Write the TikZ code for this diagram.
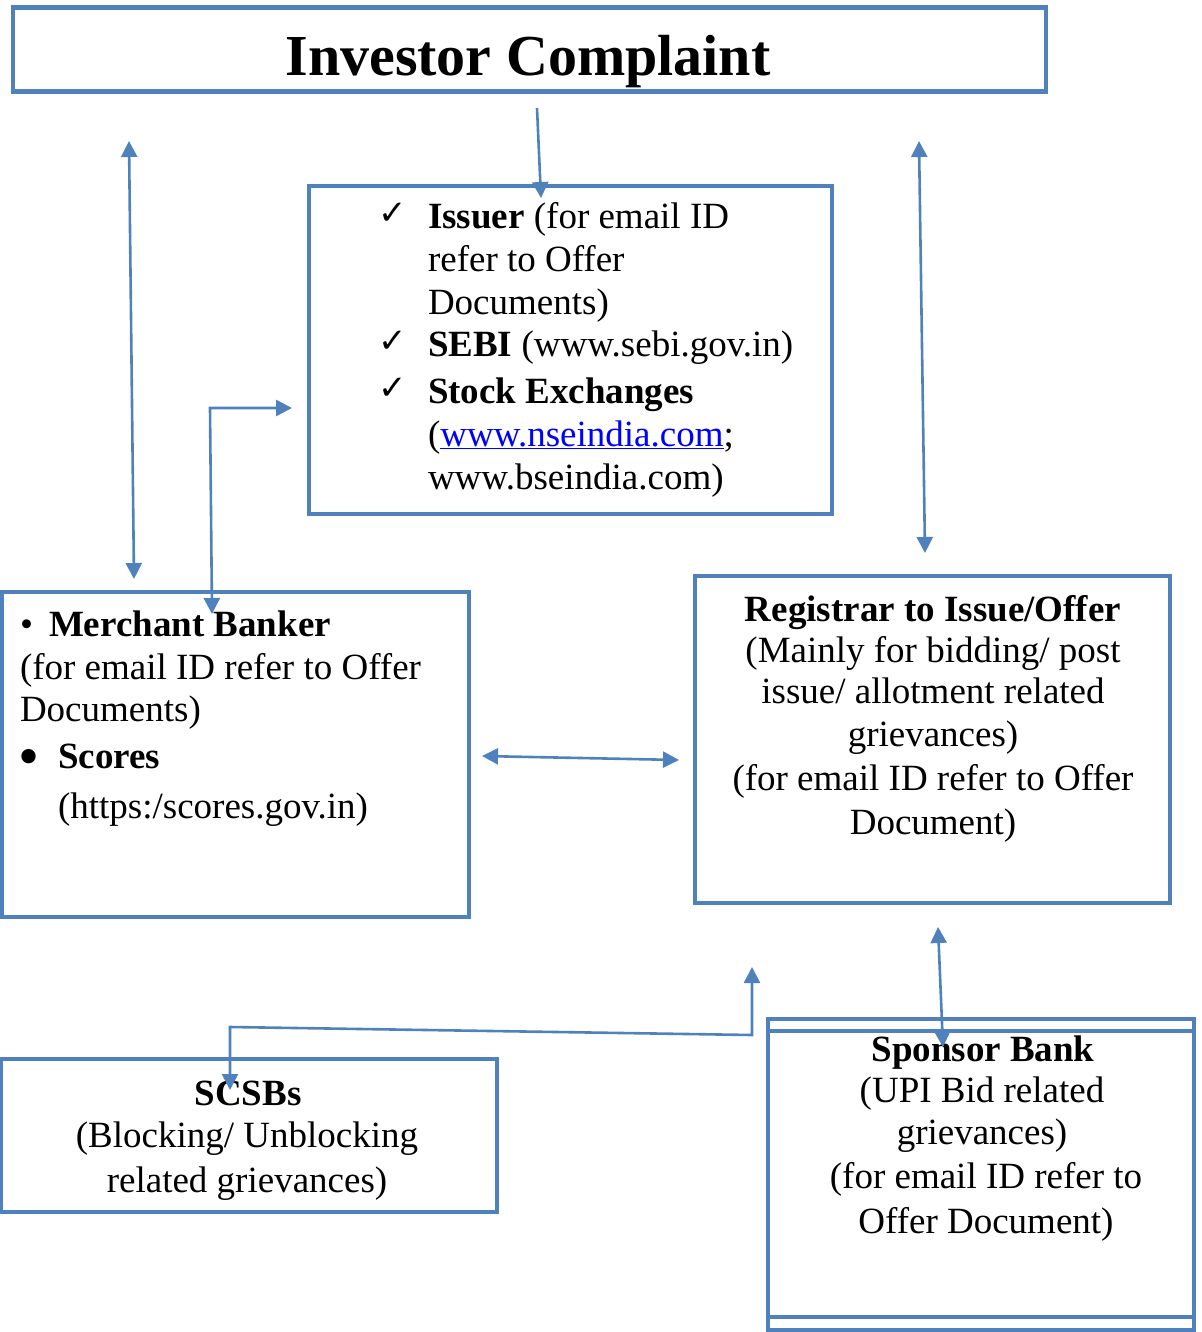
\documentclass[tikz,border=0pt]{standalone}
\usepackage{fontspec}
\setmainfont{Liberation Serif}
\newfontfamily\symfont{DejaVu Sans}
\usetikzlibrary{arrows.meta}
\definecolor{boxblue}{RGB}{79,129,189}
\definecolor{linkblue}{RGB}{0,0,255}
\newcommand\bodyfont{\fontsize{37}{43}\selectfont}
\newcommand\titlefont{\fontsize{58}{64}\selectfont\bfseries}
\newcommand\chkfont{\symfont\fontsize{34}{43}\selectfont}
\begin{document}
\begin{tikzpicture}[x=1pt,y=-1pt,
  box/.style={draw=boxblue,line width=4.8pt,inner sep=0pt,outer sep=0pt},
  tc/.style={anchor=base,inner sep=0pt,outer sep=0pt,font=\bodyfont},
  tl/.style={anchor=base west,inner sep=0pt,outer sep=0pt,font=\bodyfont},
  conn/.style={draw=boxblue,line width=2.6pt,-{Triangle[length=16pt,width=16pt]}},
  dconn/.style={draw=boxblue,line width=2.6pt,{Triangle[length=16pt,width=16pt]}-{Triangle[length=16pt,width=16pt]}}]
\useasboundingbox (0,0) rectangle (1201,1332);
% boxes
\node[box,minimum width=1033pt,minimum height=84pt] (title) at (529.5,49.5) {};
\node[box,minimum width=523pt,minimum height=328pt] (issuer) at (570.5,350) {};
\node[box,minimum width=467.5pt,minimum height=325pt] (merchant) at (235.25,754.5) {};
\node[box,minimum width=475pt,minimum height=327pt] (registrar) at (932.5,739.5) {};
\node[box,minimum width=496pt,minimum height=153pt] (scsb) at (249,1135.5) {};
\node[box,minimum width=426pt,minimum height=298pt] (sponsor) at (981,1168) {};
\node[box,minimum width=426pt,minimum height=299pt] (sponsorb) at (981,1180.5) {};
% title text
\node[anchor=base,inner sep=0pt,font=\titlefont] (titletext) at (528,76) {Investor Complaint};
% issuer text
\node[tl,font=\chkfont] (ck1) at (378,225) {✓};
\node[tl] (is1) at (428,229) {\textbf{Issuer} (for email ID};
\node[tl] (is2) at (428,272) {refer to Offer};
\node[tl] (is3) at (428,314) {Documents)};
\node[tl,font=\chkfont] (ck2) at (378,352) {✓};
\node[tl] (is4) at (428,356) {\textbf{SEBI} (www.sebi.gov.in)};
\node[tl,font=\chkfont] (ck3) at (378,399) {✓};
\node[tl] (is5) at (428,403) {\textbf{Stock Exchanges}};
\node[tl] (is6) at (428,446) {(\textcolor{linkblue}{\underline{www.nseindia.com}};};
\node[tl] (is7) at (428,489) {www.bseindia.com)};
% merchant text
\node[tl] (mb0) at (20,636) {\textbullet};
\node[tl] (mb1) at (49,636) {\textbf{Merchant Banker}};
\node[tl] (mb2) at (20,679) {(for email ID refer to Offer};
\node[tl] (mb3) at (20,721) {Documents)};
\node[tl,font=\fontsize{60}{43}\selectfont] (mb4) at (18,776) {\textbullet};
\node[tl] (mb5) at (58,768) {\textbf{Scores}};
\node[tl] (mb6) at (58,818) {(https:/scores.gov.in)};
% registrar text
\node[tc] (rg1) at (933,621) {\textbf{Registrar to Issue/Offer}};
\node[tc] (rg2) at (933,662) {(Mainly for bidding/ post};
\node[tc] (rg3) at (933,703) {issue/ allotment related};
\node[tc] (rg4) at (933,746) {grievances)};
\node[tc] (rg5) at (933,790) {(for email ID refer to Offer};
\node[tc] (rg6) at (933,834) {Document)};
% scsb text
\node[tc] (sc1) at (248,1105) {\textbf{SCSBs}};
\node[tc] (sc2) at (247,1147) {(Blocking/ Unblocking};
\node[tc] (sc3) at (247,1192) {related grievances)};
% sponsor text
\node[tc] (sp1) at (983,1061) {\textbf{Sponsor Bank}};
\node[tc] (sp2) at (982,1102) {(UPI Bid related};
\node[tc] (sp3) at (982,1144) {grievances)};
\node[tc] (sp4) at (986,1188) {(for email ID refer to};
\node[tc] (sp5) at (986,1233) {Offer Document)};
% connector coordinates
\coordinate (a1t) at (129,141);
\coordinate (a1b) at (134,579);
\coordinate (a2s) at (537,108);
\coordinate (a2e) at (541,198);
\coordinate (a3t) at (919,141);
\coordinate (a3b) at (925,553);
\coordinate (a4b) at (212,614);
\coordinate (a4c) at (210,408);
\coordinate (a4e) at (292,408);
\coordinate (a5l) at (482,756);
\coordinate (a5r) at (679,760);
\coordinate (a6t) at (938,927);
\coordinate (a6b) at (943,1047);
\coordinate (a7t) at (752,967);
\coordinate (a7c) at (752,1035);
\coordinate (a7d) at (230,1027);
\coordinate (a7e) at (230,1090);
% connectors
\draw[dconn] (a1t) -- (a1b);
\draw[conn] (a2s) -- (a2e);
\draw[dconn] (a3t) -- (a3b);
\draw[dconn,line join=miter] (a4b) -- (a4c) -- (a4e);
\draw[dconn] (a5l) -- (a5r);
\draw[dconn] (a6t) -- (a6b);
\draw[dconn] (a7t) -- (a7c) -- (a7d) -- (a7e);
\end{tikzpicture}
\end{document}
